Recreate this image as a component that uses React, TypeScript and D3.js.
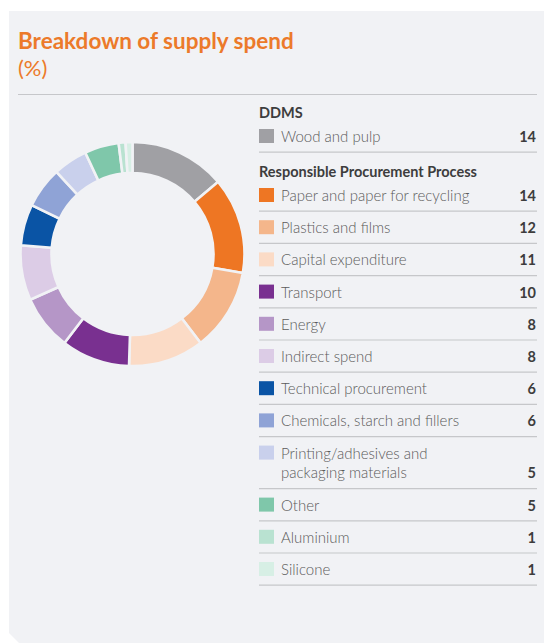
import React from "react";
import * as d3 from "d3";

const categories = [
  "Wood and pulp",
  "Paper and paper for recycling",
  "Plastics and films",
  "Capital expenditure",
  "Transport",
  "Energy",
  "Indirect spend",
  "Technical procurement",
  "Chemicals, starch and fillers",
  "Printing/adhesives and|packaging materials",
  "Other",
  "Aluminium",
  "Silicone",
];
const values = [14, 14, 12, 11, 10, 8, 8, 6, 6, 5, 5, 1, 1];
const colors = [
  "#a0a0a4",
  "#ee7623",
  "#f4b68b",
  "#fbdbc6",
  "#793090",
  "#b596c7",
  "#dccce6",
  "#0a54a5",
  "#8fa3d6",
  "#c9d0ec",
  "#7fc7aa",
  "#b9e2d1",
  "#d7efe5",
];
const groups = ["DDMS", "Responsible Procurement Process"];
const groupOf = [0, 1, 1, 1, 1, 1, 1, 1, 1, 1, 1, 1, 1];

const BG = "#f1f2f5";
const FONT = "Lato, 'Open Sans', sans-serif";

export default function App() {
  const W = 544;
  const H = 643;
  const cx = 132.5;
  const cy = 254;
  const outerR = 112;
  const innerR = 81;

  const pie = d3
    .pie<number>()
    .sort(null)
    .value((d) => d)
    .startAngle(0)
    .endAngle(2 * Math.PI);
  const arcs = pie(values);
  const arc = d3.arc<d3.PieArcDatum<number>>().innerRadius(innerR).outerRadius(outerR);

  // legend layout
  const lx = 259;
  const rx = 536;
  const rows: any[] = [];
  let y = 94;
  let lastGroup = -1;
  const headers: { text: string; y: number }[] = [];
  categories.forEach((c, i) => {
    const g = groupOf[i];
    if (g !== lastGroup) {
      headers.push({ text: groups[g], y: g === 0 ? 118 : 177 });
      y = g === 0 ? 120 : 179;
      lastGroup = g;
    }
    const lines = c.split("|");
    const h = lines.length > 1 ? 52 : 32.2;
    rows.push({ i, lines, top: y, bottom: y + h });
    y += h;
  });

  return (
    <svg width={W} height={H} style={{ position: "absolute", left: 0, top: 0 }}>
      <path d={`M9,11 H${W} V${H} H19 L9,633 Z`} fill={BG} />
      <text x={18} y={49} fill="#ec7a2a" fontFamily={FONT} fontWeight={700} fontSize={22.5}>
        Breakdown of supply spend
      </text>
      <text x={18} y={76} fill="#ec7a2a" fontFamily={FONT} fontWeight={400} fontSize={22}>
        (%)
      </text>
      <line x1={18} x2={537} y1={94.5} y2={94.5} stroke="#c6c7ca" strokeWidth={1.2} />

      <g transform={`translate(${cx},${cy})`}>
        {arcs.map((a, i) => (
          <path key={i} d={arc(a) || ""} fill={colors[i]} stroke={BG} strokeWidth={2.6} />
        ))}
      </g>

      {headers.map((h, k) => (
        <text key={k} x={lx} y={h.y} fill="#3d3d3d" fontFamily={FONT} fontWeight={700} fontSize={14.5}>
          {h.text}
        </text>
      ))}
      {rows.map((r) => (
        <g key={r.i}>
          <rect x={lx} y={r.top + 9} width={15} height={14} fill={colors[r.i]} />
          {r.lines.map((t: string, k: number) => (
            <text
              key={k}
              x={281}
              y={r.top + 22 + k * 19}
              fill="#5b5b5b"
              fontFamily={FONT}
              fontWeight={300}
              fontSize={15}
            >
              {t}
            </text>
          ))}
          <text
            x={rx}
            y={r.top + 22 + (r.lines.length - 1) * 19}
            textAnchor="end"
            fill="#3d3d3d"
            fontFamily={FONT}
            fontWeight={700}
            fontSize={14.5}
          >
            {values[r.i]}
          </text>
          <line x1={lx} x2={rx + 1} y1={r.bottom} y2={r.bottom} stroke="#c6c7ca" strokeWidth={1.2} />
        </g>
      ))}
    </svg>
  );
}
